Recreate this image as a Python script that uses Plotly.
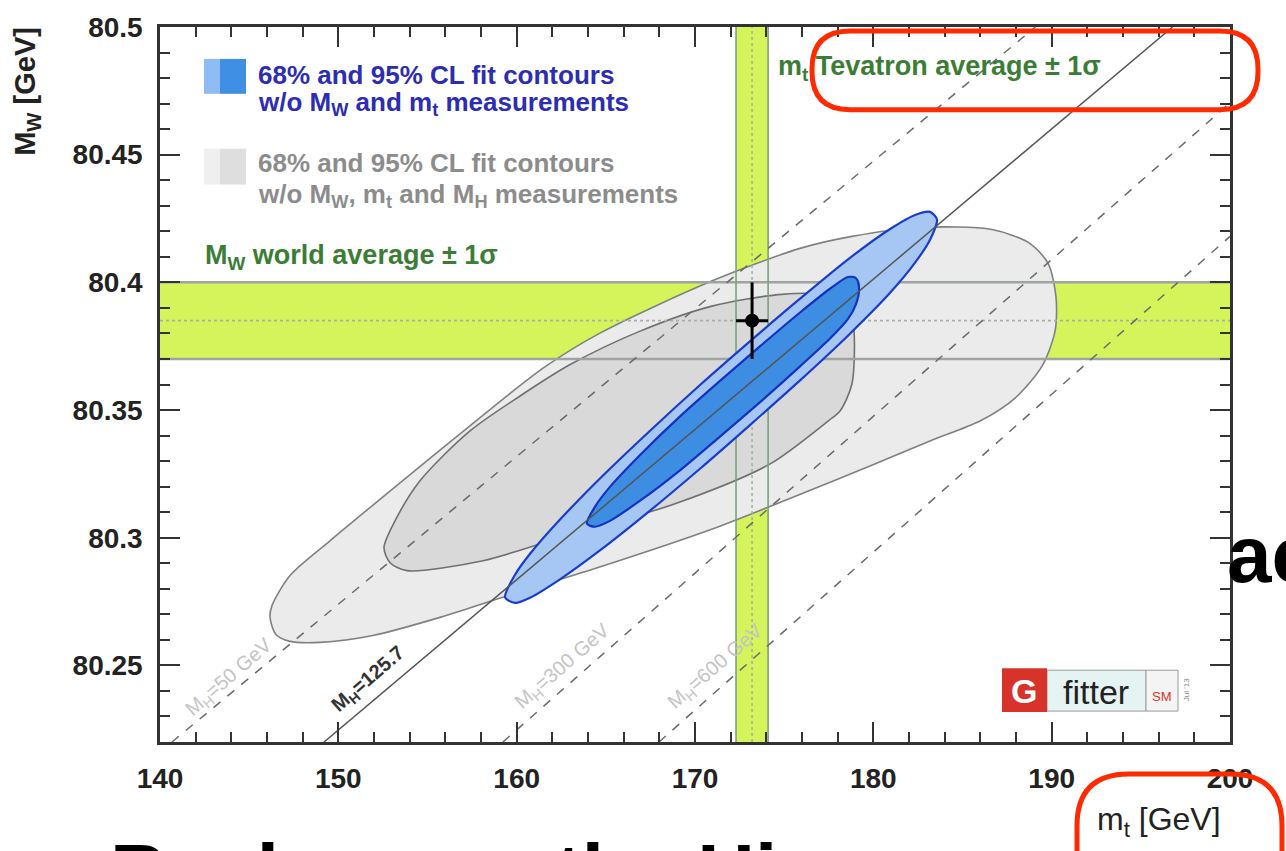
import plotly.graph_objects as go

# ---------------- data ----------------
mt_range = [140, 200]
mw_range = [80.22, 80.5]
mt_ticks = [140, 150, 160, 170, 180, 190, 200]
mt_tick_labels = ["140", "150", "160", "170", "180", "190", "200"]
mw_ticks = [80.25, 80.3, 80.35, 80.4, 80.45, 80.5]
mw_tick_labels = ["80.25", "80.3", "80.35", "80.4", "80.45", "80.5"]

# measurements
mw_avg, mw_err = 80.385, 0.015
mt_avg, mt_err = 173.2, 0.9

# 95% CL contour w/o MW, mt and MH
gray95_mt = [146.28, 147.29, 149.53, 153.46, 157.38, 161.48, 164.67, 170.90, 175.89, 178.80, 182.62,
             186.66, 188.79, 189.80, 190.24, 190.19, 189.46, 187.95, 185.98, 183.18, 179.81, 176.39,
             171.01, 164.56, 159.18, 155.70, 151.94, 148.97, 147.29, 146.50, 146.17]
gray95_mw = [80.2734, 80.2852, 80.2988, 80.3215, 80.3438, 80.3664, 80.3801, 80.4004, 80.4133, 80.4180,
             80.4215, 80.4207, 80.4152, 80.4074, 80.3945, 80.3809, 80.3672, 80.3547, 80.3457, 80.3379,
             80.3281, 80.3184, 80.3035, 80.2883, 80.2766, 80.2688, 80.2617, 80.2590, 80.2594, 80.2621,
             80.2688]
# 68% CL contour w/o MW, mt and MH
gray68_mt = [152.56, 153.18, 154.58, 157.38, 160.19, 163.05, 166.92, 170.90, 174.88, 177.57, 178.69,
             178.92, 178.80, 178.13, 177.46, 174.21, 168.88, 162.43, 158.11, 153.85, 152.90]
gray68_mw = [80.2961, 80.3066, 80.3223, 80.3418, 80.3555, 80.3680, 80.3809, 80.3906, 80.3953, 80.3949,
             80.3906, 80.3809, 80.3602, 80.3496, 80.3457, 80.3289, 80.3133, 80.3000, 80.2910, 80.2871,
             80.2902]
# 95% CL contour w/o MW and mt
blue95_mt = [159.35, 159.91, 160.75, 162.43, 164.67, 167.48, 170.28, 173.08, 175.89, 178.69, 180.94,
             182.34, 183.18, 183.57, 183.18, 182.34, 180.94, 178.69, 175.89, 173.08, 170.28, 167.48,
             164.67, 162.43, 160.75, 159.91]
blue95_mw = [80.2766, 80.2855, 80.2937, 80.3071, 80.3232, 80.3419, 80.3598, 80.3769, 80.3936, 80.4096,
             80.4209, 80.4264, 80.4276, 80.4246, 80.4167, 80.4077, 80.3959, 80.3799, 80.3616, 80.3441,
             80.3270, 80.3106, 80.2950, 80.2837, 80.2765, 80.2745]
# 68% CL contour w/o MW and mt
blue68_mt = [163.94, 164.39, 165.23, 166.92, 169.16, 171.40, 173.65, 175.89, 177.57, 178.58, 179.03,
             179.20, 179.03, 178.58, 177.57, 175.89, 173.65, 171.40, 169.16, 166.92, 165.23, 164.39]
blue68_mw = [80.3055, 80.3121, 80.3199, 80.3324, 80.3475, 80.3614, 80.3750, 80.3882, 80.3975, 80.4021,
             80.4016, 80.3976, 80.3915, 80.3857, 80.3780, 80.3671, 80.3531, 80.3396, 80.3264, 80.3145,
             80.3066, 80.3043]

# constant-MH lines (start / end points)
mh_names = ["M<sub>H</sub>=50 GeV", "M<sub>H</sub>=125.7", "M<sub>H</sub>=300 GeV", "M<sub>H</sub>=600 GeV"]
mh_mt_start = [140.67, 149.20, 159.23, 167.98]
mh_mw_start = [80.22, 80.22, 80.22, 80.22]
mh_mt_end = [189.09, 196.78, 200.0, 200.0]
mh_mw_end = [80.5, 80.5, 80.4703, 80.418]
mh_label_mt = [143.9, 151.7, 162.6, 171.2]
mh_label_mw = [80.2452, 80.2446, 80.2495, 80.2495]

# ---------------- styles ----------------
FONT = "Liberation Sans, Arial, Helvetica, sans-serif"
BAND = "#d5f45c"
PL, PR, PT, PB = 160, 1230, 25, 742   # plot-area pixel box


def px_x(p):
    return (p - PL) / (PR - PL)


def px_y(p):
    return (PB - p) / (PB - PT)


def rrect(x0, y0, x1, y1, r):
    X, Y = px_x, px_y
    return (f"M {X(x0 + r)},{Y(y0)} L {X(x1 - r)},{Y(y0)} Q {X(x1)},{Y(y0)} {X(x1)},{Y(y0 + r)} "
            f"L {X(x1)},{Y(y1 - r)} Q {X(x1)},{Y(y1)} {X(x1 - r)},{Y(y1)} "
            f"L {X(x0 + r)},{Y(y1)} Q {X(x0)},{Y(y1)} {X(x0)},{Y(y1 - r)} "
            f"L {X(x0)},{Y(y0 + r)} Q {X(x0)},{Y(y0)} {X(x0 + r)},{Y(y0)} Z")


def closed(xs, ys, start):
    # start the outline on a smooth stretch and close it
    xr = xs[start:] + xs[:start + 1]
    yr = ys[start:] + ys[:start + 1]
    return xr, yr


fig = go.Figure()


def contour(xs, ys, start, fill, line, w):
    xr, yr = closed(xs, ys, start)
    fig.add_trace(go.Scatter(x=xr, y=yr, mode="lines", fill="toself", fillcolor=fill,
                             line=dict(color=line, width=w, shape="spline", smoothing=0.8),
                             hoverinfo="skip", showlegend=False))


contour(gray95_mt, gray95_mw, 7, "#ebebeb", "#808080", 1.6)
contour(gray68_mt, gray68_mw, 6, "#d9d9d9", "#707070", 1.6)

# band edges and centre lines (over grey contours)
lo_w, hi_w = mw_avg - mw_err, mw_avg + mw_err
lo_t, hi_t = mt_avg - mt_err, mt_avg + mt_err
fig.add_trace(go.Scatter(x=[mt_range[0], mt_range[1], None, mt_range[0], mt_range[1]],
                         y=[lo_w, lo_w, None, hi_w, hi_w], mode="lines",
                         line=dict(color="#9ea59e", width=2.5), hoverinfo="skip", showlegend=False))
fig.add_trace(go.Scatter(x=[lo_t, lo_t, None, hi_t, hi_t],
                         y=[mw_range[0], mw_range[1], None, mw_range[0], mw_range[1]], mode="lines",
                         line=dict(color="#7f9f7f", width=1.6), hoverinfo="skip", showlegend=False))
fig.add_trace(go.Scatter(x=[mt_range[0], mt_range[1], None, mt_avg, mt_avg],
                         y=[mw_avg, mw_avg, None, mw_range[0], mw_range[1]], mode="lines",
                         line=dict(color="#a8b0a8", width=1.6, dash="dot"), hoverinfo="skip",
                         showlegend=False))

contour(blue95_mt, blue95_mw, 6, "#a6c7f3", "#1a3ccc", 2.2)
contour(blue68_mt, blue68_mw, 5, "#3d8de2", "#1432c0", 2.2)

# constant MH lines
for i in range(len(mh_names)):
    solid = i == 1
    fig.add_trace(go.Scatter(x=[mh_mt_start[i], mh_mt_end[i]], y=[mh_mw_start[i], mh_mw_end[i]],
                             mode="lines",
                             line=dict(color="#555555" if solid else "#6a6a6a", width=1.5,
                                       dash="solid" if solid else "dash"),
                             hoverinfo="skip", showlegend=False))
    fig.add_annotation(x=mh_label_mt[i], y=mh_label_mw[i], text=mh_names[i], showarrow=False,
                       textangle=-41,
                       font=dict(family=FONT, size=20, color="#333333" if solid else "#c4c4c4",
                                 weight="bold" if solid else "normal"))

# measurement point
fig.add_trace(go.Scatter(x=[mt_avg], y=[mw_avg], mode="markers",
                         marker=dict(color="black", size=14),
                         error_x=dict(type="constant", value=mt_err, color="black", thickness=3, width=0),
                         error_y=dict(type="constant", value=mw_err, color="black", thickness=3, width=0),
                         hoverinfo="skip", showlegend=False))

shapes = [
    dict(type="rect", xref="x", yref="y", x0=mt_range[0], x1=mt_range[1], y0=lo_w, y1=hi_w,
         fillcolor=BAND, line=dict(width=0), layer="below"),
    dict(type="rect", xref="x", yref="y", x0=lo_t, x1=hi_t, y0=mw_range[0], y1=mw_range[1],
         fillcolor=BAND, line=dict(width=0), layer="below"),
]


def prect(x0, y0, x1, y1, fill, line="rgba(0,0,0,0)", lw=0):
    shapes.append(dict(type="rect", xref="paper", yref="paper", x0=px_x(x0), x1=px_x(x1),
                       y0=px_y(y1), y1=px_y(y0), fillcolor=fill, line=dict(color=line, width=lw),
                       layer="above"))


# legend boxes
prect(204, 57, 220, 92, "#8fbcf2")
prect(220, 57, 246, 92, "#3f8fe4")
prect(204, 147, 220, 183, "#efefef")
prect(220, 147, 246, 183, "#dedede")

# Gfitter logo
prect(1047, 670, 1146, 711, "#e6f3f3", "#9a9a9a", 1)
prect(1146, 670, 1178, 711, "#f4f4f4", "#9a9a9a", 1)
prect(1002, 668, 1047, 712, "#d8332a")

# red highlight outlines
shapes.append(dict(type="path", xref="paper", yref="paper", path=rrect(812, 29, 1258, 108, 38),
                   line=dict(color="#ff2a00", width=5), fillcolor="rgba(0,0,0,0)", layer="above"))
shapes.append(dict(type="path", xref="paper", yref="paper", path=rrect(1077, 774, 1282, 910, 52),
                   line=dict(color="#ff2a00", width=5), fillcolor="rgba(0,0,0,0)", layer="above"))
fig.update_layout(shapes=shapes)


def ptext(x, y, text, size, color, weight="normal", xanchor="left", yanchor="middle", angle=0,
          family=FONT):
    fig.add_annotation(xref="paper", yref="paper", x=px_x(x), y=px_y(y), text=text,
                       showarrow=False, xanchor=xanchor, yanchor=yanchor, textangle=angle,
                       font=dict(family=family, size=size, color=color, weight=weight))


BLUE_T = "#2c2cb4"
GRAY_T = "#8c8c8c"
GREEN_T = "#3b7d34"
ptext(256, 73, "68% and 95% CL fit contours", 26, BLUE_T, "bold")
ptext(256, 102, "w/o M<sub>W</sub> and m<sub>t</sub> measurements", 26, BLUE_T, "bold")
ptext(256, 161, "68% and 95% CL fit contours", 26, GRAY_T, "bold")
ptext(256, 194, "w/o M<sub>W</sub>, m<sub>t</sub> and M<sub>H</sub> measurements", 26, GRAY_T, "bold")
ptext(203, 256, "M<sub>W</sub> world average ± 1σ", 27, GREEN_T, "bold")
ptext(776, 66, "m<sub>t</sub> Tevatron average ± 1σ", 27, GREEN_T, "bold")

# axis titles (ROOT style, at the axis ends)
ptext(27, 90, "M<sub>W</sub> [GeV]", 29, "#222222", "bold", xanchor="center", angle=-90)
ptext(1159, 822, "m<sub>t</sub> [GeV]", 32, "#222222", "normal", xanchor="center")

# logo text
ptext(1024, 691, "G", 34, "white", "bold", xanchor="center")
ptext(1096, 692, "fitter", 34, "#222222", "normal", xanchor="center")
ptext(1162, 696, "SM", 13, "#d8332a", "normal", xanchor="center")
ptext(1186, 690, "Jul '13", 8, "#888888", "normal", xanchor="center", angle=-90)

# overlapping slide text
ptext(1225, 507, "ac", 80, "black", "bold", yanchor="top")
ptext(108, 826, "Back", 80, "black", "bold", yanchor="top")
ptext(553, 826, "the Higgs", 80, "black", "bold", yanchor="top")

axis_common = dict(showgrid=False, zeroline=False, showline=True, linecolor="#333333", linewidth=2.5,
                   mirror="allticks", ticks="inside", ticklen=20, tickwidth=2, tickcolor="#333333",
                   tickfont=dict(family=FONT, size=28, color="#222222", weight="bold"))
fig.update_xaxes(range=mt_range, tickmode="array", tickvals=mt_ticks, ticktext=mt_tick_labels,
                 minor=dict(dtick=2, tick0=140, ticks="inside", ticklen=10, tickwidth=2,
                            tickcolor="#333333", showgrid=False),
                 ticklabelstandoff=10, **axis_common)
fig.update_yaxes(range=mw_range, tickmode="array", tickvals=mw_ticks, ticktext=mw_tick_labels,
                 minor=dict(dtick=0.01, tick0=80.0, ticks="inside", ticklen=10, tickwidth=2,
                            tickcolor="#333333", showgrid=False),
                 ticklabelstandoff=9, **axis_common)

fig.update_layout(width=1286, height=851, margin=dict(l=PL, r=1286 - PR, t=PT, b=851 - PB),
                  paper_bgcolor="white", plot_bgcolor="white", showlegend=False,
                  font=dict(family=FONT))

fig.write_html("out.html")
